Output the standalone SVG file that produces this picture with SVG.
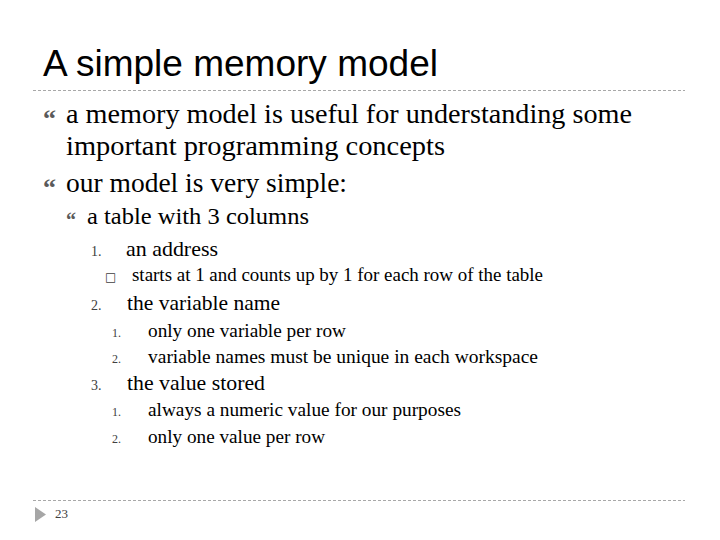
<svg xmlns="http://www.w3.org/2000/svg" width="720" height="540" viewBox="0 0 720 540">
<style>
.title{font-family:"Liberation Sans","Noto Sans",sans-serif;font-size:36px;fill:#000}
.b{font-family:"Liberation Serif","DejaVu Serif",serif;fill:#000}
.l1{font-size:27px}
.l2{font-size:23px}
.l3{font-size:21px}
.l3s{font-size:18px}
.l4{font-size:19px}
.bul{font-family:"Liberation Serif",serif;font-weight:bold;fill:#5a5a5a}
.num{font-family:"Liberation Serif",serif;fill:#404040}
.sep{stroke:#a8a8a8;stroke-width:1;stroke-dasharray:3 2;fill:none}
</style>
<rect width="720" height="540" fill="#fff"/>
<text class="title" x="43" y="76" textLength="395" lengthAdjust="spacingAndGlyphs">A simple memory model</text>
<line class="sep" x1="33" y1="90.5" x2="685" y2="90.5"/>
<line class="sep" x1="33" y1="500.5" x2="685" y2="500.5"/>
<polygon points="35,507 46,514.5 35,522" fill="#a6a6a6"/>
<text class="num" x="55" y="518" font-size="13" fill="#000">23</text>

<g id="bullets">
<text class="bul" x="43" y="127" font-size="26">“</text>
<text class="bul" x="43" y="196" font-size="26">“</text>
<text class="bul" x="66" y="226.5" font-size="20">“</text>
</g>

<g id="level1">
<text class="b l1" x="66" y="123" textLength="566" lengthAdjust="spacingAndGlyphs">a memory model is useful for understanding some</text>
<text class="b l1" x="66" y="155" textLength="379" lengthAdjust="spacingAndGlyphs">important programming concepts</text>
<text class="b l1" x="66" y="192" textLength="281" lengthAdjust="spacingAndGlyphs">our model is very simple:</text>
</g>

<g id="level2">
<text class="b l2" x="87" y="224" textLength="222" lengthAdjust="spacingAndGlyphs">a table with 3 columns</text>
</g>

<g id="level3">
<text class="num" x="91" y="256" font-size="14">1.</text>
<text class="b l3" x="126" y="256" textLength="92" lengthAdjust="spacingAndGlyphs">an address</text>
<text x="105" y="281" font-family="DejaVu Sans,sans-serif" font-size="12" fill="#404040">□</text>
<text class="b l3s" x="132" y="281" textLength="411" lengthAdjust="spacingAndGlyphs">starts at 1 and counts up by 1 for each row of the table</text>
<text class="num" x="91" y="310" font-size="14">2.</text>
<text class="b l3" x="127" y="310" textLength="153" lengthAdjust="spacingAndGlyphs">the variable name</text>
<text class="num" x="112" y="337" font-size="12">1.</text>
<text class="b l4" x="148" y="337" textLength="198" lengthAdjust="spacingAndGlyphs">only one variable per row</text>
<text class="num" x="112" y="363" font-size="12">2.</text>
<text class="b l4" x="148" y="363" textLength="390" lengthAdjust="spacingAndGlyphs">variable names must be unique in each workspace</text>
<text class="num" x="91" y="390" font-size="14">3.</text>
<text class="b l3" x="127" y="390" textLength="138" lengthAdjust="spacingAndGlyphs">the value stored</text>
<text class="num" x="112" y="416" font-size="12">1.</text>
<text class="b l4" x="148" y="416" textLength="313" lengthAdjust="spacingAndGlyphs">always a numeric value for our purposes</text>
<text class="num" x="112" y="443" font-size="12">2.</text>
<text class="b l4" x="148" y="443" textLength="177" lengthAdjust="spacingAndGlyphs">only one value per row</text>
</g>
</svg>
